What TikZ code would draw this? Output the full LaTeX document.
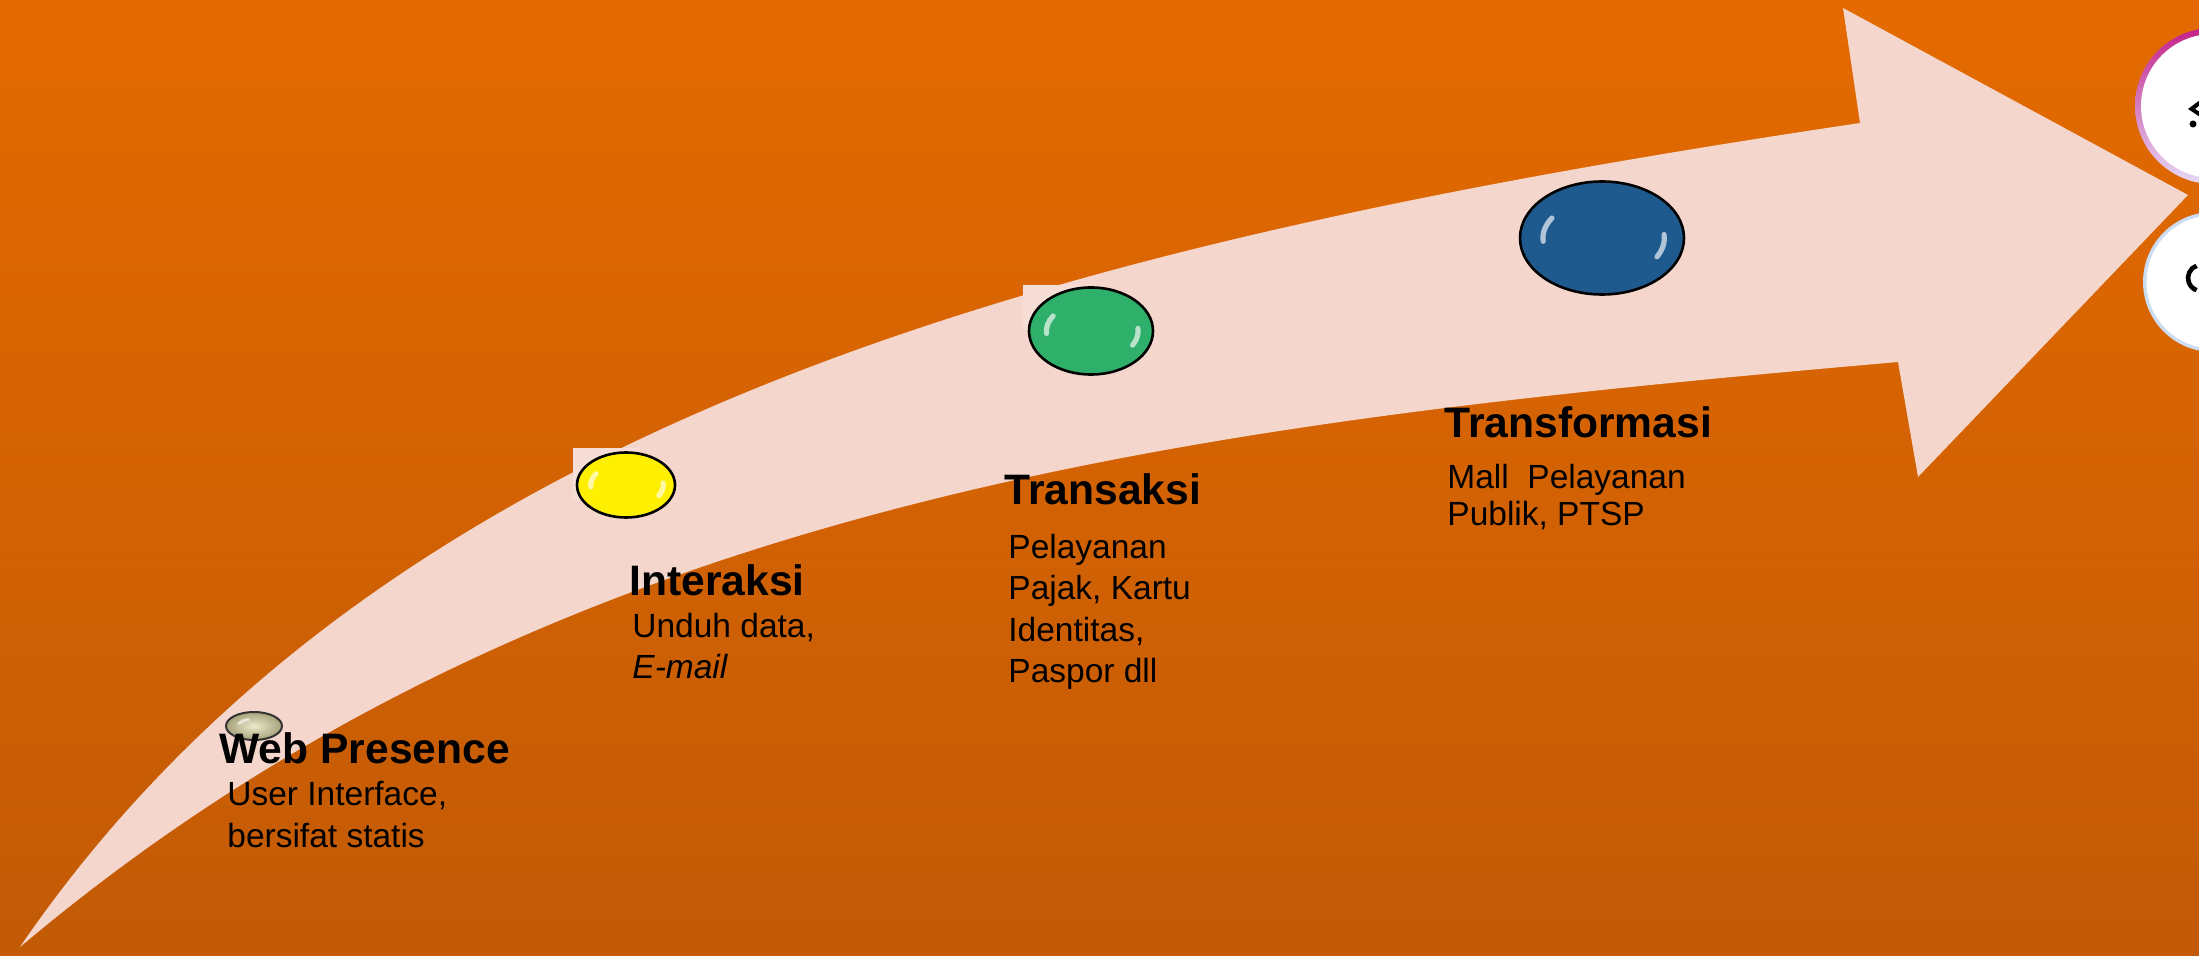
\documentclass[tikz,border=0pt]{standalone}
\usepackage{fontspec}
\setmainfont{Liberation Sans}
\usetikzlibrary{shapes.geometric}
\definecolor{bgtop}{HTML}{E46A00}
\definecolor{bgmid}{HTML}{DF6600}
\definecolor{bgbot}{HTML}{C25A06}
\definecolor{arrowpink}{HTML}{F4D6CD}
\definecolor{patchpink}{HTML}{F6DED7}
\definecolor{beadyellow}{HTML}{FFF000}
\definecolor{beadgreen}{HTML}{2FB06A}
\definecolor{beadblue}{HTML}{1F5A8E}
\definecolor{khakiin}{HTML}{ECE9CC}
\definecolor{khakiout}{HTML}{A6A27A}
\definecolor{ringtop}{HTML}{C4228A}
\definecolor{ringmid}{HTML}{A95BE0}
\definecolor{ringbot}{HTML}{E6DAF7}
\definecolor{ringblue}{HTML}{CCDDF2}
\begin{document}
\begin{tikzpicture}[x=0.5pt,y=-0.5pt,
  title/.style={font=\fontsize{21.3}{25}\selectfont\bfseries, text=black, inner sep=0pt, anchor=base west},
  body/.style={font=\fontsize{16.75}{20.5}\selectfont, text=black, inner sep=0pt, anchor=north west, align=left},
  bead/.style={ellipse, draw=black, line width=1.3pt, inner sep=0pt},
  gloss/.style={white, line width=2.6pt, line cap=round, opacity=0.65}]
\useasboundingbox (0,0) rectangle (2199,956);
% background
\shade[top color=bgtop, middle color=bgmid, bottom color=bgbot] (0,0) rectangle (2199,956);
% curved arrow
\fill[arrowpink]
  (20,947) .. controls (387,411) and (1069,241) .. (1860,123)
  -- (1843,8) -- (2188,195) -- (1918,477) -- (1898,362)
  .. controls (1201,423) and (555,495.5) .. (20,947)
  -- cycle;
% image patches behind the beads
\fill[patchpink] (573,448) rectangle (640,500);
\fill[patchpink] (1023,285) rectangle (1080,330);
% beads
\node[bead, inner color=khakiin, outer color=khakiout, draw=black!80, line width=1pt, minimum width=28pt, minimum height=14pt] (b1) at (254,726) {};
\node[bead, fill=beadyellow, minimum width=49pt, minimum height=32.5pt] (b2) at (626,485) {};
\node[bead, fill=beadgreen, minimum width=62pt, minimum height=43.5pt] (b3) at (1091,331) {};
\node[bead, fill=beadblue, minimum width=82pt, minimum height=56.5pt] (b4) at (1602,238) {};
\foreach \cx/\cy/\rx/\ry in {626/485/49/32, 1091/331/62/43, 1602/238/82/57}{
  \pgfmathsetmacro{\ra}{0.72*\rx}
  \pgfmathsetmacro{\rb}{0.66*\ry}
  \pgfmathsetmacro{\rc}{0.76*\rx}
  \pgfmathsetmacro{\rd}{0.7*\ry}
  \draw[gloss] (\cx,\cy) ++(175:{\ra} and {\rb}) arc[start angle=175, end angle=212, x radius=\ra, y radius=\rb];
  \draw[gloss] (\cx,\cy) ++(-5:{\rc} and {\rd}) arc[start angle=-5, end angle=28, x radius=\rc, y radius=\rd];
}
\draw[white, line width=1.5pt, opacity=0.6, line cap=round] (254,726) ++(200:{16} and {7}) arc[start angle=200, end angle=250, x radius=16, y radius=7];
% texts
\node[title] (t1) at (219,763) {Web Presence};
\node[body, font=\fontsize{16.75}{21}\selectfont] (d1) at (227,780.5) {User Interface,\\bersifat statis};
\node[title] (t2) at (629,595) {Interaksi};
\node[body] (d2) at (632,612.5) {Unduh data,\\\textit{E-mail}};
\node[title] (t3) at (1004,505) {Transaksi};
\node[body, font=\fontsize{16.75}{20.75}\selectfont] (d3) at (1008,533.5) {Pelayanan\\Pajak, Kartu\\Identitas,\\Paspor dll};
\node[title] (t4) at (1444,438) {Transformasi};
\node[body, font=\fontsize{16.75}{18.5}\selectfont] (d4) at (1447,463.5) {Mall~~Pelayanan\\Publik, PTSP};
% right-edge round buttons (cut off)
\shade[top color=ringtop, middle color=ringmid, bottom color=ringbot] (2213,106) circle[radius=78];
\fill[white] (2213,106) circle[radius=72];
\fill[ringblue] (2213,282) circle[radius=70];
\fill[white] (2213,282) circle[radius=66.5];
\fill[black] (2200,100) -- (2188,109) -- (2200,117) -- (2200,112) -- (2195,109) -- (2200,105) -- cycle;
\fill[black] (2193,124) circle[radius=3.5];
\draw[black, line width=2.3pt] (2201,278) ++(250:13) arc[start angle=250, end angle=110, radius=13];
\end{tikzpicture}
\end{document}
